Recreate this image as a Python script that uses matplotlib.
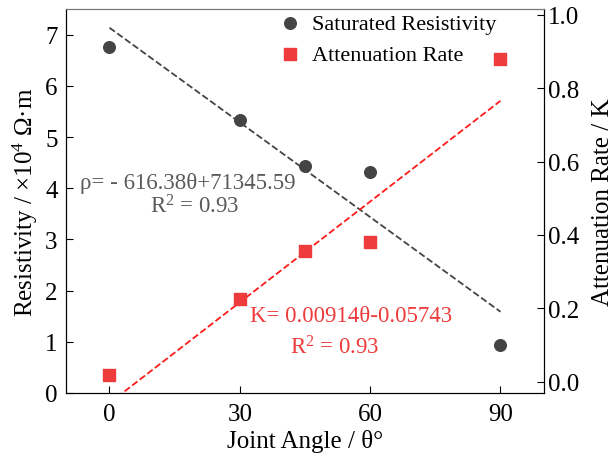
import numpy as np
import matplotlib.pyplot as plt

plt.rcParams['font.family'] = ['Liberation Serif', 'DejaVu Serif']
plt.rcParams['mathtext.fontset'] = 'custom'
plt.rcParams['mathtext.rm'] = 'Liberation Serif'
plt.rcParams['mathtext.it'] = 'Liberation Serif:italic'

# joint angle (deg)
angle = [0, 30, 45, 60, 90]
# saturated resistivity, x10^4 ohm m
resist = [6.76, 5.34, 4.44, 4.31, 0.94]
# attenuation rate K
atten = [0.019, 0.226, 0.356, 0.381, 0.879]

# linear fits given on the chart
rho_slope, rho_icpt = -616.38, 71345.59
k_slope, k_icpt = 0.00914, -0.05743

grey = '#444444'
red = '#ee3b3b'

fig = plt.figure(figsize=(6.08, 4.56), dpi=100)
ax1 = fig.add_axes([0.1086, 0.136, 0.786, 0.842])
ax2 = ax1.twinx()

xfit = np.array([0, 90])
ax1.plot(xfit, (rho_slope * xfit + rho_icpt) / 1e4, '--', color=grey, lw=1.3, zorder=2)
ax2.plot(xfit, k_slope * xfit + k_icpt, '--', color='#ff1a1a', lw=1.3, zorder=2)

h1 = ax1.scatter(angle, resist, s=70, color=grey, marker='o', zorder=3, label='Saturated Resistivity')
h2 = ax2.scatter(angle, atten, s=70, color=red, marker='s', zorder=3, label='Attenuation Rate')

ax1.set_xlim(-10, 100)
ax1.set_ylim(0, 7.5)
ax2.set_ylim(-0.03, 1.015)
ax1.set_xticks([0, 30, 60, 90])
ax1.set_yticks(range(0, 8))
ax2.set_yticks([0.0, 0.2, 0.4, 0.6, 0.8, 1.0])
ax2.set_yticklabels(['0.0', '0.2', '0.4', '0.6', '0.8', '1.0'])

for ax in (ax1, ax2):
    ax.tick_params(direction='in', length=5, labelsize=18)
    ax.spines['top'].set_color('#777777')
ax1.tick_params(axis='x', pad=7)
ax1.tick_params(axis='y', pad=6)
ax2.tick_params(axis='y', pad=3)

ax1.set_xlabel('Joint Angle / θ°', fontsize=18, labelpad=3)
ax1.set_ylabel('Resistivity / ×10$^4$ Ω·m', fontsize=18, labelpad=4)
ax2.set_ylabel('Attenuation Rate / K', fontsize=18, labelpad=9)

ax1.text(18.0, 4.11, 'ρ= - 616.38θ+71345.59', color='#5a5a5a', fontsize=16.5, ha='center', va='center')
ax1.text(19.6, 3.65, 'R$^2$ = 0.93', color='#5a5a5a', fontsize=16.5, ha='center', va='center')
ax1.text(55.7, 1.52, 'K= 0.00914θ-0.05743', color=red, fontsize=16.5, ha='center', va='center')
ax1.text(51.8, 0.90, 'R$^2$ = 0.93', color=red, fontsize=16.5, ha='center', va='center')

ax2.legend(handles=[h1, h2], loc='upper left', bbox_to_anchor=(0.38, 1.04), frameon=False,
           fontsize=16, handletextpad=0.0, labelspacing=0.45)

fig.savefig('out.png', dpi=100)
